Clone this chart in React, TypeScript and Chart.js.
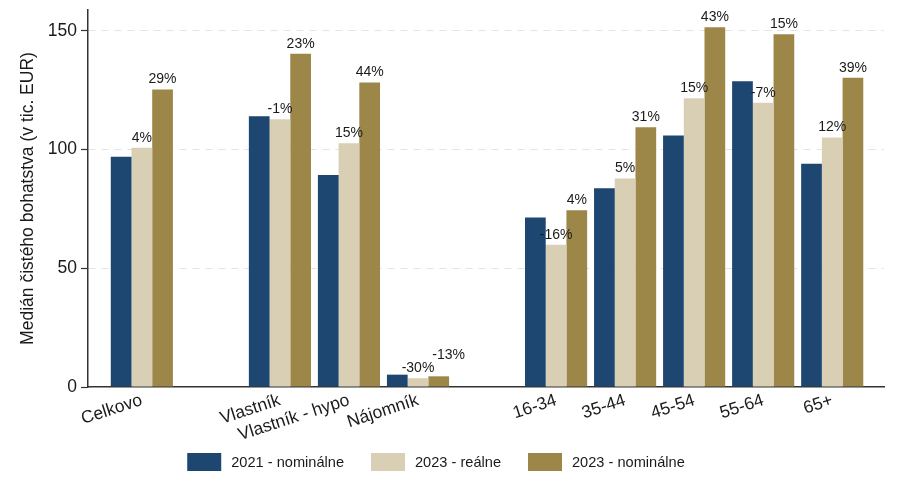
import React, { useEffect, useRef } from "react";
import { Chart, registerables } from "chart.js";

Chart.register(...registerables);

const categories = ["Celkovo", "", "Vlastník", "Vlastník - hypo", "Nájomník", "", "16-34", "35-44", "45-54", "55-64", "65+"];
const nominal2021 = [97, null, 114, 89.3, 5.2, null, 71.4, 83.7, 105.9, 128.8, 94];
const real2023 = [100.8, null, 112.8, 102.7, 3.7, null, 59.9, 87.8, 121.6, 119.7, 105.1];
const nominal2023 = [125.3, null, 140.4, 128.3, 4.5, null, 74.4, 109.4, 151.5, 148.6, 130.3];
const realChangeLabels = ["4%", "", "-1%", "15%", "-30%", "", "-16%", "5%", "15%", "-7%", "12%"];
const nominalChangeLabels = ["29%", "", "23%", "44%", "-13%", "", "4%", "31%", "43%", "15%", "39%"];
const seriesNames = ["2021 - nominálne", "2023 - reálne", "2023 - nominálne"];
const seriesColors = ["#1D4670", "#D8CFB5", "#9C8749"];
const yTicks = [0, 50, 100, 150];
const yTitle = "Medián čistého bohatstva (v tic. EUR)";

const FONT = 'Arial, "Liberation Sans", sans-serif';
const TEXT = "#1a1a1a";

const toPoints = (arr: (number | null)[]) =>
  arr.map((v, i) => (v === null ? null : { x: i, y: v })).filter((p) => p !== null);

const categoryPositions = categories.map((c, i) => (c ? i : -1)).filter((i) => i >= 0);

const valueLabelsPlugin = {
  id: "valueLabels",
  afterDatasetsDraw(chart: any) {
    const ctx = chart.ctx;
    const labelSets: Record<number, string[]> = { 1: realChangeLabels, 2: nominalChangeLabels };
    ctx.save();
    ctx.font = `14px ${FONT}`;
    ctx.fillStyle = TEXT;
    ctx.textAlign = "center";
    ctx.textBaseline = "bottom";
    [1, 2].forEach((di) => {
      const meta = chart.getDatasetMeta(di);
      const ds = chart.data.datasets[di];
      meta.data.forEach((el: any, j: number) => {
        const idx = ds.data[j].x;
        const txt = labelSets[di][idx];
        if (!txt) return;
        let dx = 0;
        let dy = 0;
        // the small renter bars: nominal label lifted to avoid overlap
        if (di === 2 && categories[idx] === "Nájomník") {
          dx = 10;
          dy = -11;
        }
        ctx.fillText(txt, el.x + dx, el.y - 3 + dy);
      });
    });
    ctx.restore();
  },
};

const legendPlugin = {
  id: "customLegend",
  afterDraw(chart: any) {
    const ctx = chart.ctx;
    ctx.save();
    ctx.font = `14.6px ${FONT}`;
    const boxW = 34;
    const boxH = 18;
    const gapText = 10;
    const gapItem = 27;
    const widths = seriesNames.map((n) => boxW + gapText + ctx.measureText(n).width);
    const total = widths.reduce((a, b) => a + b, 0) + gapItem * (widths.length - 1);
    let x = 428 - total / 2;
    const top = 445;
    chart.data.datasets.forEach((ds: any, i: number) => {
      ctx.fillStyle = ds.backgroundColor;
      ctx.fillRect(x, top, boxW, boxH);
      ctx.fillStyle = TEXT;
      ctx.textAlign = "left";
      ctx.textBaseline = "middle";
      ctx.fillText(ds.label, x + boxW + gapText, top + boxH / 2 + 1);
      x += widths[i] + gapItem;
    });
    ctx.restore();
  },
};

export default function App() {
  const ref = useRef<HTMLCanvasElement | null>(null);
  useEffect(() => {
    if (!ref.current) return;
    const chart = new Chart(ref.current, {
      type: "bar",
      data: {
        datasets: [nominal2021, real2023, nominal2023].map((arr, i) => ({
          label: seriesNames[i],
          data: toPoints(arr) as any,
          backgroundColor: seriesColors[i],
          borderWidth: 0,
          categoryPercentage: 0.9,
          barPercentage: 1.0,
        })),
      },
      options: {
        animation: false,
        responsive: true,
        maintainAspectRatio: false,
        layout: { padding: { top: 2, right: 23, left: 0, bottom: 0 } },
        plugins: {
          legend: { display: false },
          tooltip: { enabled: false },
        },
        scales: {
          x: {
            type: "linear",
            offset: false,
            min: -0.78,
            max: 10.75,
            afterBuildTicks: (scale: any) => {
              scale.ticks = categoryPositions.map((v) => ({ value: v }));
            },
            afterFit: (scale: any) => {
              scale.height = 97;
              scale.paddingLeft = 0;
              scale.paddingRight = 0;
            },
            ticks: {
              autoSkip: false,
              minRotation: 18,
              maxRotation: 18,
              padding: 3,
              color: TEXT,
              font: { family: FONT, size: 17.5 },
              callback: (v: any) => categories[v] ?? "",
            },
            grid: { display: false, drawTicks: false, offset: false },
            border: { display: true, color: "#333", width: 1.5 },
          },
          y: {
            min: 0,
            max: 158.8,
            afterBuildTicks: (scale: any) => {
              scale.ticks = yTicks.map((v) => ({ value: v }));
            },
            afterFit: (scale: any) => {
              scale.width = 80;
              scale.paddingTop = 0;
              scale.paddingBottom = 0;
            },
            ticks: {
              padding: 4,
              color: TEXT,
              font: { family: FONT, size: 17.5 },
            },
            grid: {
              color: (c: any) => (c.tick && c.tick.value === 0 ? "rgba(0,0,0,0)" : "#e3e3e3"),
              lineWidth: 1,
              tickColor: "#333",
              tickLength: 7,
              tickWidth: 1.2,
            },
            border: { display: true, color: "#333", width: 1.5, dash: [7, 6] },
            title: {
              display: true,
              text: yTitle,
              color: TEXT,
              font: { family: FONT, size: 17.5 },
              padding: { top: 10, bottom: 4 },
            },
          },
        },
      },
      plugins: [valueLabelsPlugin, legendPlugin],
    });
    return () => chart.destroy();
  }, []);
  return (
    <div style={{ position: "relative", width: "899px", height: "476px" }}>
      <canvas ref={ref} />
    </div>
  );
}
